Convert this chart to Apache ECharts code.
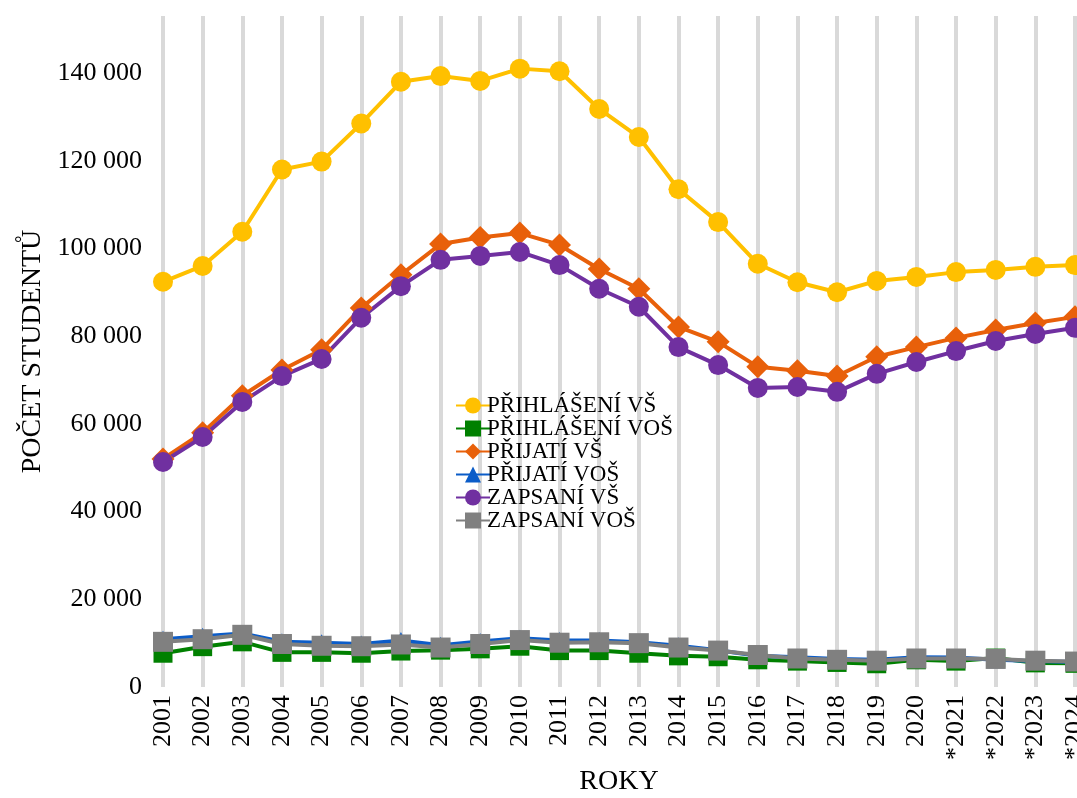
<!DOCTYPE html>
<html>
<head>
<meta charset="utf-8">
<script src="https://cdn.jsdelivr.net/npm/echarts@6/dist/echarts.min.js"></script>
<style>
  html, body { margin: 0; padding: 0; background: #fff; }
  #chart { width: 1077px; height: 798px; }
</style>
</head>
<body>
<div id="chart"></div>
<script>
const years = ["2001", "2002", "2003", "2004", "2005", "2006", "2007", "2008", "2009", "2010",
  "2011", "2012", "2013", "2014", "2015", "2016", "2017", "2018", "2019", "2020",
  "*2021", "*2022", "*2023", "*2024"];

const prihlaseniVS = [92400, 96000, 103800, 118000, 119800, 128500, 138000, 139300, 138200, 141000,
  140400, 131800, 125400, 113500, 106000, 96500, 92300, 90000, 92600, 93500,
  94600, 95100, 95800, 96200];
const prihlaseniVOS = [7700, 9200, 10300, 7900, 7900, 7700, 8200, 8400, 8700, 9300,
  8300, 8300, 7700, 7100, 6900, 6200, 5900, 5600, 5300, 6200,
  5900, 6600, 5500, 5400];
const prijatiVS = [52000, 58000, 66400, 72300, 76900, 86400, 94000, 101000, 102500, 103500,
  100800, 95300, 90800, 82100, 78700, 73000, 72100, 70900, 75300, 77500,
  79600, 81400, 83000, 84400];
const prijatiVOS = [10900, 11600, 12200, 10300, 10100, 9800, 10600, 9500, 10400, 11100,
  10600, 10600, 10200, 9400, 8400, 7100, 6800, 6400, 6200, 6800,
  6700, 6200, 5900, 5700];
const zapsaniVS = [51300, 57000, 65000, 70900, 74800, 84200, 91400, 97400, 98300, 99200,
  96200, 90800, 86700, 77500, 73400, 68200, 68400, 67300, 71400, 74100,
  76600, 78900, 80500, 81900];
const zapsaniVOS = [10300, 10900, 11900, 9800, 9400, 9300, 9700, 9000, 9800, 10700,
  10100, 10200, 10000, 9000, 8300, 7300, 6500, 6200, 6000, 6500,
  6500, 6400, 6000, 5800];

const font = "Liberation Serif";

function lineSeries(name, data, color, symbol, size) {
  return {
    name: name,
    type: "line",
    data: data,
    symbol: symbol,
    symbolSize: size,
    lineStyle: { color: color, width: 4 },
    itemStyle: { color: color },
    emphasis: { disabled: true },
  };
}

const chart = echarts.init(document.getElementById("chart"));
chart.setOption({
  animation: false,
  textStyle: { fontFamily: font, color: "#000" },
  grid: { left: 163, right: 2, top: 16, bottom: 111, outerBoundsMode: "none", containLabel: false },
  legend: {
    orient: "vertical",
    left: 450,
    top: 389,
    itemWidth: 34,
    itemHeight: 20,
    itemGap: 0,
    textStyle: { fontFamily: font, fontSize: 23, color: "#000", lineHeight: 20, padding: [0, 0, 0, -8] },
  },
  xAxis: {
    type: "category",
    data: years,
    boundaryGap: false,
    name: "ROKY",
    nameLocation: "middle",
    nameGap: 80,
    nameTextStyle: { fontFamily: font, fontSize: 28, color: "#000" },
    axisLine: { show: false },
    axisTick: { show: false },
    axisLabel: { rotate: 90, interval: 0, fontSize: 26, margin: 8, color: "#000", fontFamily: font },
    splitLine: { show: true, lineStyle: { color: "#d9d9d9", width: 4 } },
  },
  yAxis: {
    type: "value",
    min: 0,
    max: 153000,
    interval: 20000,
    name: "POČET STUDENTŮ",
    nameLocation: "middle",
    nameGap: 104,
    nameTextStyle: { fontFamily: font, fontSize: 28, color: "#000" },
    axisLine: { show: false },
    axisTick: { show: false },
    splitLine: { show: false },
    axisLabel: {
      fontSize: 26,
      margin: 21,
      color: "#000",
      fontFamily: font,
      showMaxLabel: false,
      formatter: function (v) {
        return String(v).replace(/\B(?=(\d{3})+(?!\d))/g, " ");
      },
    },
  },
  series: [
    lineSeries("PŘIHLÁŠENÍ VŠ", prihlaseniVS, "#FFC000", "circle", 20),
    lineSeries("PŘIHLÁŠENÍ VOŠ", prihlaseniVOS, "#008000", "rect", 19),
    lineSeries("PŘIJATÍ VŠ", prijatiVS, "#E8600A", "diamond", 23),
    lineSeries("PŘIJATÍ VOŠ", prijatiVOS, "#0B5CC8", "triangle", 17),
    lineSeries("ZAPSANÍ VŠ", zapsaniVS, "#7030A0", "circle", 20),
    lineSeries("ZAPSANÍ VOŠ", zapsaniVOS, "#808080", "rect", 20),
  ],
});
</script>
</body>
</html>
